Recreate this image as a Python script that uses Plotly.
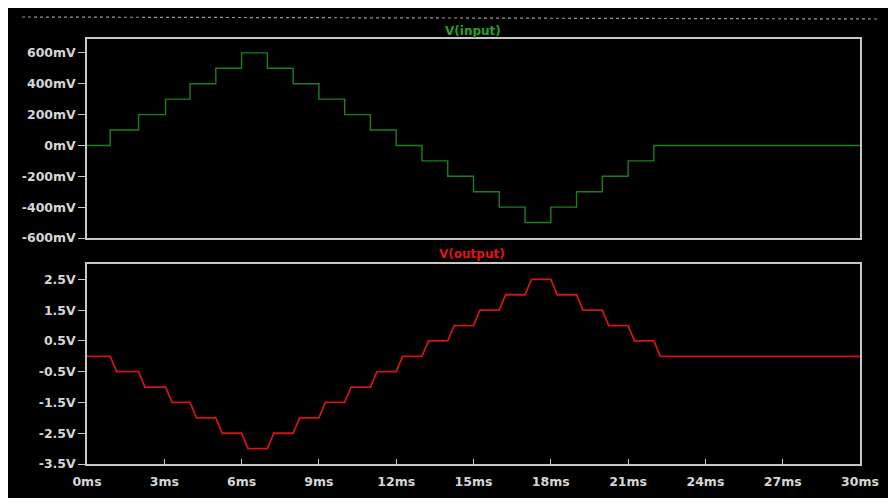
import plotly.graph_objects as go

# ---- data ----
step_times_ms = [0.0, 0.9, 2.0, 3.05, 4.0, 5.0, 6.0, 7.0, 8.0, 9.0, 10.0, 11.0,
                 12.0, 13.0, 14.0, 15.0, 16.0, 17.0, 18.0, 19.0, 20.0, 21.0, 22.0]
end_time_ms = 30.0
input_mv = [0, 100, 200, 300, 400, 500, 600, 500, 400, 300, 200, 100,
            0, -100, -200, -300, -400, -500, -400, -300, -200, -100, 0]
output_v = [0.0, -0.5, -1.0, -1.5, -2.0, -2.5, -3.0, -2.5, -2.0, -1.5, -1.0, -0.5,
            0.0, 0.5, 1.0, 1.5, 2.0, 2.5, 2.0, 1.5, 1.0, 0.5, 0.0]

x_ticks = [0, 3, 6, 9, 12, 15, 18, 21, 24, 27, 30]
x_ticktext = ["0ms", "3ms", "6ms", "9ms", "12ms", "15ms", "18ms", "21ms", "24ms", "27ms", "30ms"]
top_ticks = [600, 400, 200, 0, -200, -400, -600]
top_ticktext = ["600mV", "400mV", "200mV", "0mV", "-200mV", "-400mV", "-600mV"]
bot_ticks = [2.5, 1.5, 0.5, -0.5, -1.5, -2.5, -3.5]
bot_ticktext = ["2.5V", "1.5V", "0.5V", "-0.5V", "-1.5V", "-2.5V", "-3.5V"]

# ---- build traces ----
in_x = step_times_ms + [end_time_ms]
in_y = input_mv + [input_mv[-1]]

slew = 0.25  # ms, visual transition width of the output
out_x = [step_times_ms[0]]
out_y = [output_v[0]]
for i in range(1, len(step_times_ms)):
    out_x += [step_times_ms[i], step_times_ms[i] + slew]
    out_y += [output_v[i - 1], output_v[i]]
out_x.append(end_time_ms)
out_y.append(output_v[-1])

OFF = 8  # page body margin
W, H = 896 - OFF, 504 - OFF
ml, mr, mt, mb = 87 - OFF, 36, 39 - OFF, 40
pw, ph = W - ml - mr, H - mt - mb


def px(x):
    return (x - OFF - ml) / pw


def py(y):
    return (H - mb - (y - OFF)) / ph


fig = go.Figure()
fig.add_trace(go.Scatter(x=in_x, y=in_y, mode="lines", line_shape="hv",
                         line=dict(color="#1d7f22", width=1.4),
                         xaxis="x", yaxis="y", showlegend=False))
fig.add_trace(go.Scatter(x=out_x, y=out_y, mode="lines",
                         line=dict(color="#d01515", width=1.8),
                         xaxis="x2", yaxis="y2", showlegend=False))

tickfont = dict(family="DejaVu Sans", size=12.5, color="#d6d6d6", weight="bold")
axis_common = dict(showgrid=False, zeroline=False, showline=True, mirror=True,
                   linecolor="#c8c8c8", linewidth=1.5, tickcolor="#c8c8c8",
                   tickfont=tickfont)

fig.update_layout(
    width=W, height=H,
    margin=dict(l=ml, r=mr, t=mt, b=mb),
    paper_bgcolor="#ffffff",
    plot_bgcolor="#000000",
    xaxis=dict(domain=[0, 1], range=[0, 30], anchor="y", showticklabels=False,
               ticks="", **axis_common),
    yaxis=dict(domain=[py(238), 1], range=[-600, 690], anchor="x",
               tickvals=top_ticks, ticktext=top_ticktext, ticks="outside", ticklen=7,
               **axis_common),
    xaxis2=dict(domain=[0, 1], range=[0, 30], anchor="y2",
                tickvals=x_ticks, ticktext=x_ticktext, ticks="inside", ticklen=5,
                ticklabelstandoff=5, **axis_common),
    yaxis2=dict(domain=[0, py(264)], range=[-3.5, 3.0], anchor="x2",
                tickvals=bot_ticks, ticktext=bot_ticktext, ticks="outside", ticklen=7,
                **axis_common),
    shapes=[
        dict(type="rect", xref="paper", yref="paper", layer="below",
             x0=px(0), x1=px(890), y0=py(498), y1=py(8),
             fillcolor="#000000", line=dict(width=0)),
        dict(type="line", xref="paper", yref="paper",
             x0=px(22), x1=px(880), y0=py(17), y1=py(19),
             line=dict(color="#9a9a9a", width=1.2, dash="dot")),
    ],
    annotations=[
        dict(text="V(input)", xref="paper", yref="paper", x=px(473), y=py(31),
             showarrow=False, xanchor="center", yanchor="middle",
             font=dict(family="DejaVu Sans", size=12, color="#2aa02a", weight="bold")),
        dict(text="V(output)", xref="paper", yref="paper", x=px(472), y=py(254),
             showarrow=False, xanchor="center", yanchor="middle",
             font=dict(family="DejaVu Sans", size=12, color="#e01414", weight="bold")),
    ],
)

fig.write_html("out.html")
